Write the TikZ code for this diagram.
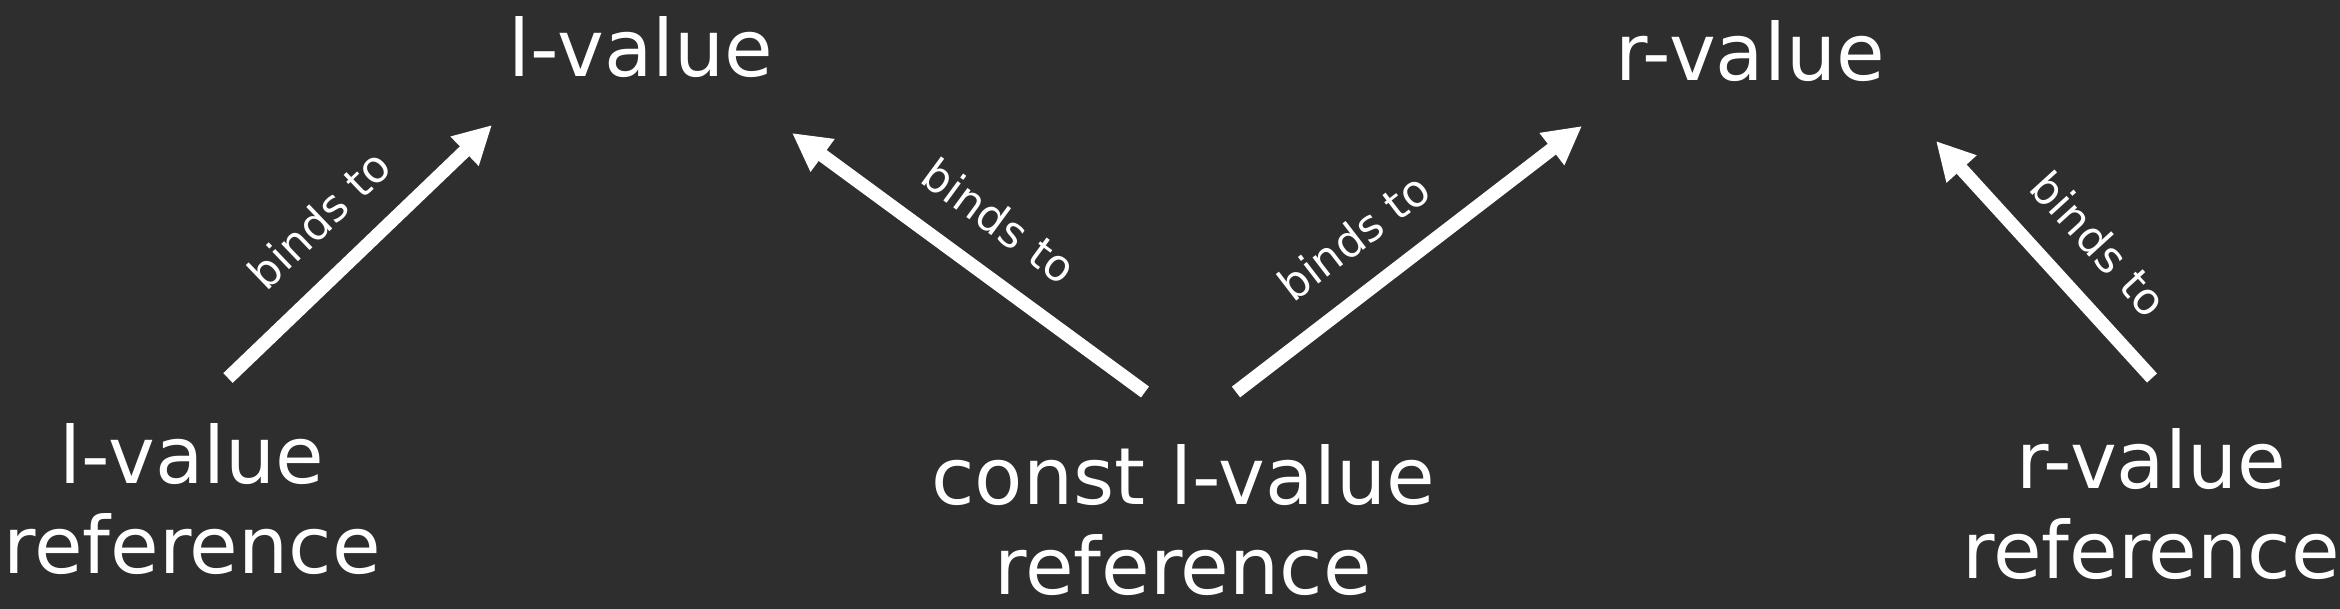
\documentclass[tikz,border=0pt]{standalone}
\usepackage{fontspec}
\setmainfont{DejaVu Sans}
\usetikzlibrary{arrows.meta}
\definecolor{bg}{HTML}{2E2E2E}
\begin{document}
\begin{tikzpicture}[x=1pt,y=-1pt,
  big/.style={text=white, inner sep=0pt, font=\fontsize{79}{90}\selectfont, align=center, anchor=base},
  bind/.style={draw=white, line width=13.5pt, -{Triangle[length=38pt,width=38pt]}},
  lbl/.style={text=white, inner sep=0pt, font=\fontsize{44}{50}\selectfont, sloped, above=28pt}
]
\useasboundingbox (0,0) rectangle (2340,609);
\fill[bg] (0,0) rectangle (2340,609);

\node[big] (lval) at (641,77) {l-value};
\node[big] (rval) at (1750,81) {r-value};
\node[big] (lref) at (192,573) {l-value\\reference};
\node[big] (cref) at (1183,594) {const l-value\\reference};
\node[big] (rref) at (2151,578) {r-value\\reference};

\coordinate (a1s) at (228,378); \coordinate (a1t) at (492,125);
\coordinate (a2s) at (1145,392); \coordinate (a2t) at (792,133);
\coordinate (a3s) at (1236,392); \coordinate (a3t) at (1582,126);
\coordinate (a4s) at (2152,378); \coordinate (a4t) at (1936,141);

\draw[bind] (a1s) -- node[lbl, pos=0.48] (b1) {binds to} (a1t);
\draw[bind] (a2s) -- node[lbl, pos=0.50] (b2) {binds to} (a2t);
\draw[bind] (a3s) -- node[lbl, pos=0.43] (b3) {binds to} (a3t);
\draw[bind] (a4s) -- node[lbl, pos=0.42] (b4) {binds to} (a4t);
\end{tikzpicture}
\end{document}
